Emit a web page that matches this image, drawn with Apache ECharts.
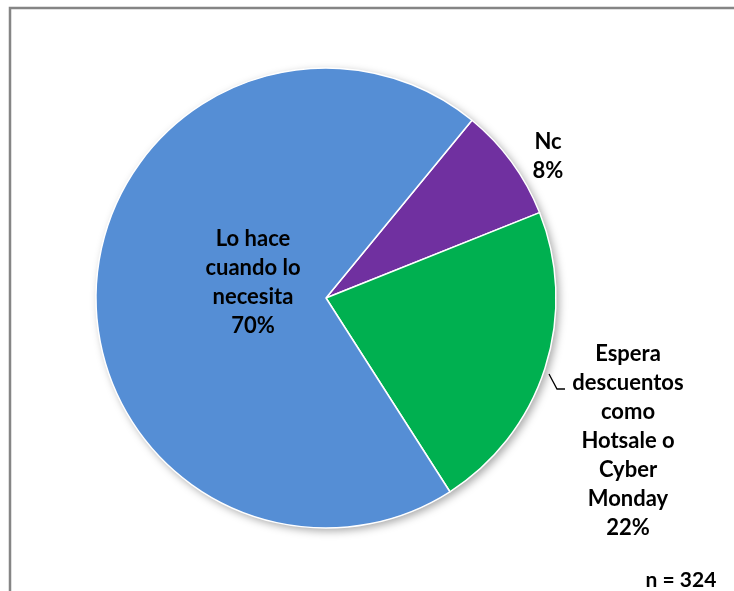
<!DOCTYPE html>
<html>
<head>
<meta charset="utf-8">
<script src="https://cdn.jsdelivr.net/npm/echarts@6/dist/echarts.min.js"></script>
<style>
  html, body { margin: 0; padding: 0; background: #fff; }
  #chart { width: 734px; height: 591px; }
</style>
</head>
<body>
<div id="chart"></div>
<script>
// Survey answers, in clockwise order from the first slice
const categories = ['Nc', 'Espera\ndescuentos\ncomo\nHotsale o\nCyber\nMonday', 'Lo hace\ncuando lo\nnecesita'];
const shares = [8, 22, 70];
const colors = ['#7030A0', '#00B050', '#558ED5'];
const sampleNote = 'n = 324';

// Pie geometry
const CX = 326, CY = 298, R = 230;
const START_ANGLE = 50.6;

// Label centres relative to the pie centre
const labelOffsets = [[222, -142], [302, 143], [-73, -16]];

const chart = echarts.init(document.getElementById('chart'));

const labelFont = {
  fontFamily: 'Lato, "Open Sans", sans-serif',
  fontWeight: 'bold',
  fontSize: 22,
  color: '#000'
};

chart.setOption({
  animation: false,
  graphic: [
    {
      type: 'rect',
      z: 0,
      shape: { x: 10, y: 8, width: 800, height: 700 },
      style: { fill: '#fff', stroke: '#858585', lineWidth: 2.5 }
    },
    {
      type: 'circle',
      z: 1,
      silent: true,
      shape: { cx: CX, cy: CY, r: R },
      style: {
        fill: '#fff',
        shadowBlur: 8,
        shadowColor: 'rgba(0,0,0,0.35)',
        shadowOffsetX: 3,
        shadowOffsetY: 3
      }
    },
    {
      type: 'text',
      z: 10,
      style: Object.assign({}, labelFont, {
        text: sampleNote,
        x: 681, y: 580,
        align: 'center', verticalAlign: 'middle',
        fill: '#000', fontSize: 21
      })
    }
  ],
  series: [{
    type: 'pie',
    z: 5,
    center: [CX, CY],
    radius: [0, R],
    startAngle: START_ANGLE,
    clockwise: true,
    avoidLabelOverlap: false,
    silent: true,
    data: categories.map((name, i) => ({
      name: name,
      value: shares[i],
      itemStyle: { color: colors[i] }
    })),
    itemStyle: { borderColor: '#fff', borderWidth: 1.5 },
    label: Object.assign({}, labelFont, {
      show: true,
      position: 'outside',
      lineHeight: 29,
      align: 'center',
      formatter: p => p.name + '\n' + p.value + '%'
    }),
    labelLine: {
      show: true,
      lineStyle: { color: '#000', width: 1.3 }
    },
    labelLayout: function (params) {
      const i = params.dataIndex;
      const off = labelOffsets[i];
      const out = {
        x: CX + off[0],
        y: CY + off[1],
        align: 'center',
        verticalAlign: 'middle'
      };
      if (i === 1) {
        // short leader from the slice edge to the label
        out.labelLinePoints = [
          [CX + 223, CY + 76],
          [CX + 231, CY + 91],
          [CX + 239, CY + 91]
        ];
      } else {
        out.labelLinePoints = [[CX, CY], [CX, CY], [CX, CY]];
      }
      return out;
    }
  }]
});
</script>
</body>
</html>
